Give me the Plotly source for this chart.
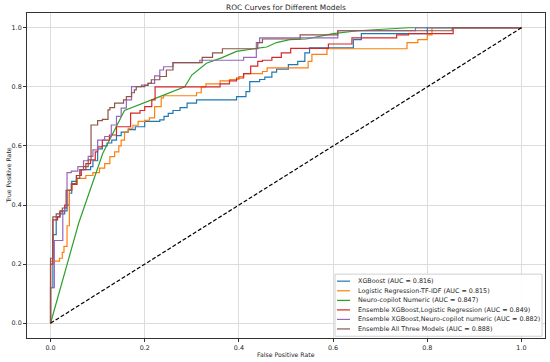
import plotly.graph_objects as go

# ---------------- data ----------------
xgb_fpr = [0, 0, 0.005, 0.012, 0.02, 0.03, 0.035, 0.04, 0.045, 0.055, 0.065, 0.085, 0.09, 0.10, 0.11, 0.12, 0.13, 0.14, 0.15, 0.165,
           0.18, 0.20, 0.232, 0.241, 0.25, 0.26, 0.275, 0.29, 0.31, 0.395, 0.415, 0.423, 0.444, 0.455, 0.47, 0.48, 0.505, 0.525, 0.54, 0.55,
           0.643, 0.66, 0.80, 1.0]
xgb_tpr = [0, 0.12, 0.30, 0.36, 0.37, 0.38, 0.40, 0.44, 0.48, 0.50, 0.52, 0.53, 0.55, 0.59, 0.60, 0.61, 0.62, 0.635, 0.647, 0.655,
           0.665, 0.683, 0.688, 0.70, 0.71, 0.72, 0.73, 0.745, 0.756, 0.767, 0.784, 0.818, 0.825, 0.833, 0.85, 0.86, 0.875, 0.886, 0.915, 0.932,
           0.96, 0.98, 1.0, 1.0]

lr_fpr = [0, 0, 0.019, 0.025, 0.0285, 0.035, 0.04, 0.045, 0.057, 0.075, 0.09, 0.104, 0.115, 0.126, 0.136, 0.145, 0.15, 0.157, 0.165, 0.175,
          0.186, 0.20, 0.21, 0.221, 0.235, 0.24, 0.31, 0.32, 0.33, 0.36, 0.38, 0.40, 0.41, 0.45, 0.46, 0.547, 0.555, 0.587, 0.757, 0.78,
          0.80, 0.81, 1.0]
lr_tpr = [0, 0.21, 0.22, 0.24, 0.26, 0.33, 0.45, 0.47, 0.49, 0.50, 0.51, 0.525, 0.54, 0.564, 0.58, 0.60, 0.62, 0.648, 0.66, 0.67,
          0.683, 0.687, 0.695, 0.733, 0.763, 0.77, 0.78, 0.80, 0.81, 0.82, 0.825, 0.835, 0.845, 0.852, 0.864, 0.886, 0.91, 0.929, 0.95, 0.96,
          0.976, 1.0, 1.0]

nc_fpr = [0, 0.06, 0.111, 0.157, 0.232, 0.285, 0.30, 0.331, 0.363, 0.395, 0.437, 0.459, 0.48, 0.508, 0.543, 0.60, 0.653, 0.714, 0.76, 1.0]
nc_tpr = [0, 0.34, 0.575, 0.72, 0.767, 0.80, 0.84, 0.88, 0.898, 0.92, 0.93, 0.935, 0.95, 0.96, 0.962, 0.98, 0.99, 0.995, 1.0, 1.0]

exl_fpr = [0, 0, 0.005, 0.015, 0.02, 0.03, 0.035, 0.045, 0.055, 0.065, 0.075, 0.085, 0.095, 0.10, 0.11, 0.125, 0.14, 0.17, 0.19, 0.20,
           0.215, 0.222, 0.36, 0.38, 0.395, 0.41, 0.425, 0.44, 0.45, 0.47, 0.49, 0.51, 0.59, 0.64, 0.735, 0.76, 0.855, 1.0]
exl_tpr = [0, 0.20, 0.35, 0.36, 0.38, 0.40, 0.45, 0.47, 0.50, 0.52, 0.54, 0.553, 0.58, 0.597, 0.62, 0.637, 0.665, 0.711, 0.72, 0.733,
           0.756, 0.80, 0.81, 0.82, 0.83, 0.845, 0.87, 0.886, 0.89, 0.90, 0.915, 0.93, 0.945, 0.966, 0.976, 0.98, 1.0, 1.0]

exn_fpr = [0, 0, 0.008, 0.026, 0.03, 0.035, 0.044, 0.058, 0.07, 0.08, 0.09, 0.10, 0.115, 0.129, 0.14, 0.15, 0.161, 0.172, 0.193, 0.207,
           0.221, 0.232, 0.24, 0.26, 0.317, 0.41, 0.437, 0.444, 0.61, 0.775, 1.0]
exn_tpr = [0, 0.12, 0.28, 0.38, 0.39, 0.51, 0.515, 0.53, 0.55, 0.565, 0.587, 0.62, 0.632, 0.671, 0.70, 0.728, 0.756, 0.801, 0.806, 0.812,
           0.837, 0.857, 0.868, 0.882, 0.89, 0.90, 0.95, 0.966, 0.99, 1.0, 1.0]

ea_fpr = [0, 0, 0.005, 0.012, 0.02, 0.025, 0.033, 0.033, 0.044, 0.055, 0.062, 0.07, 0.08, 0.086, 0.10, 0.11, 0.122, 0.126, 0.136, 0.155,
          0.161, 0.172, 0.178, 0.182, 0.20, 0.207, 0.214, 0.232, 0.246, 0.26, 0.322, 0.344, 0.365, 0.44, 0.45, 0.53, 0.61, 0.853, 1.0]
ea_tpr = [0, 0.22, 0.36, 0.37, 0.377, 0.39, 0.405, 0.45, 0.473, 0.49, 0.52, 0.53, 0.553, 0.671, 0.686, 0.69, 0.722, 0.73, 0.745, 0.756,
          0.767, 0.78, 0.79, 0.801, 0.805, 0.812, 0.824, 0.835, 0.857, 0.882, 0.90, 0.915, 0.929, 0.95, 0.962, 0.976, 0.99, 1.0, 1.0]

chance_fpr = [0, 1]
chance_tpr = [0, 1]

model_names = ["XGBoost", "Logistic Regression-TF-IDF", "Neuro-copilot Numeric",
               "Ensemble XGBoost,Logistic Regression", "Ensemble XGBoost,Neuro-copilot numeric",
               "Ensemble All Three Models"]
auc_values = [0.816, 0.815, 0.847, 0.849, 0.882, 0.888]
tick_values = [0.0, 0.2, 0.4, 0.6, 0.8, 1.0]
tick_labels = ["0.0", "0.2", "0.4", "0.6", "0.8", "1.0"]

# ---------------- styling ----------------
colors = ["#1f77b4", "#ff7f0e", "#2ca02c", "#d62728", "#9467bd", "#8c564b"]
shapes_line = ["hv", "hv", "linear", "hv", "hv", "hv"]
curves = [(xgb_fpr, xgb_tpr), (lr_fpr, lr_tpr), (nc_fpr, nc_tpr),
          (exl_fpr, exl_tpr), (exn_fpr, exn_tpr), (ea_fpr, ea_tpr)]

W, H = 550, 362
L, R, T, B = 27, 545, 13.25, 337.75
FONT = "DejaVu Sans"
TXT = "#262626"


def px_x(px):
    return (px - L) / (R - L)


def px_y(py):
    return (B - py) / (B - T)


fig = go.Figure()
for (fx, ty), name, auc, col, shp in zip(curves, model_names, auc_values, colors, shapes_line):
    fig.add_trace(go.Scatter(x=fx, y=ty, mode="lines", line=dict(color=col, width=1.2, shape=shp),
                             name=f"{name} (AUC = {auc:.3f})", showlegend=False))

fig.add_trace(go.Scatter(x=chance_fpr, y=chance_tpr, mode="lines",
                         line=dict(color="black", width=1.2, dash="4px,2px"), showlegend=False))

# hand-built legend (matplotlib-like compact box)
shapes = [dict(type="rect", xref="paper", yref="paper", x0=px_x(335), x1=px_x(542), y0=px_y(336), y1=px_y(274),
               line=dict(color="#d0d0d0", width=1), fillcolor="rgba(255,255,255,0.9)", layer="above")]
annotations = []
row_y = [281, 290.6, 300.2, 309.7, 319.2, 328.7]
for i, (name, auc, col) in enumerate(zip(model_names, auc_values, colors)):
    shapes.append(dict(type="line", xref="paper", yref="paper", x0=px_x(337), x1=px_x(350),
                       y0=px_y(row_y[i]), y1=px_y(row_y[i]), line=dict(color=col, width=1.2), layer="above"))
    annotations.append(dict(xref="paper", yref="paper", x=px_x(356), y=px_y(row_y[i]), xanchor="left", yanchor="middle",
                            text=f"{name} (AUC = {auc:.3f})", showarrow=False,
                            font=dict(family=FONT, size=6.4, color=TXT)))

annotations.append(dict(xref="paper", yref="paper", x=0.5, y=px_y(354), xanchor="center", yanchor="middle",
                        text="False Positive Rate", showarrow=False, font=dict(family=FONT, size=6.2, color=TXT)))
annotations.append(dict(xref="paper", yref="paper", x=px_x(8), y=0.5, xanchor="center", yanchor="middle",
                        text="True Positive Rate", textangle=-90, showarrow=False,
                        font=dict(family=FONT, size=6.2, color=TXT)))

axis_common = dict(range=[-0.05, 1.05], tickvals=tick_values, ticktext=tick_labels,
                   showgrid=True, gridcolor="#dcdcdc", gridwidth=1, zeroline=False,
                   showline=True, linecolor="#333333", linewidth=1, mirror=True,
                   ticks="outside", ticklen=3, tickcolor="#333333", tickwidth=1,
                   tickfont=dict(family=FONT, size=6.4, color=TXT), fixedrange=True)

fig.update_layout(
    width=W, height=H, autosize=False,
    margin=dict(l=L, r=W - R, t=T, b=H - B, pad=0),
    paper_bgcolor="white", plot_bgcolor="white",
    title=dict(text="ROC Curves for Different Models", x=0.5, xref="paper", xanchor="center",
               y=1 - 7 / H, yref="container", yanchor="middle",
               font=dict(family=FONT, size=7.4, color=TXT)),
    xaxis=axis_common, yaxis=axis_common,
    shapes=shapes, annotations=annotations, showlegend=False,
)

fig.write_html("out.html", config={"displayModeBar": False},
               post_script="document.body.style.margin='0';document.body.style.overflow='hidden';")
